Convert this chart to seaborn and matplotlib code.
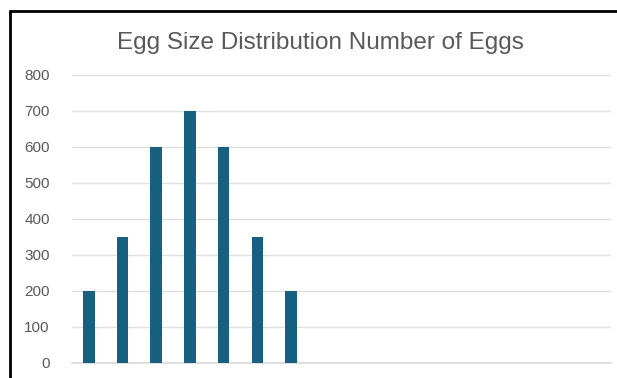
import matplotlib
matplotlib.use("Agg")
import matplotlib.pyplot as plt
import seaborn as sns
import pandas as pd
from matplotlib.lines import Line2D

# egg size classes (labels are cut off in the original image)
sizes = ["1", "2", "3", "4", "5", "6", "7"]
num_eggs = [200, 350, 600, 700, 600, 350, 200]
y_ticks = [0, 100, 200, 300, 400, 500, 600, 700, 800]

df = pd.DataFrame({"size": sizes, "eggs": num_eggs})

sns.set_style("white")
plt.rcParams["font.family"] = ["Liberation Sans", "DejaVu Sans"]

fig = plt.figure(figsize=(6.17, 3.78), dpi=100)
ax = fig.add_axes([72 / 617, 15 / 378, 539 / 617, 288 / 378])

sns.barplot(data=df, x="size", y="eggs", color="#17607f", width=0.34,
            saturation=1, linewidth=0, ax=ax, zorder=3)

ax.set_xlim(-0.5, 15.5)
ax.set_ylim(0, 800)
ax.set_yticks(y_ticks)
ax.set_yticklabels([str(t) for t in y_ticks], color="#595959", fontsize=11)
ax.tick_params(axis="y", length=0, pad=16)
ax.set_xticks([])
ax.set_xlabel("")
ax.set_ylabel("")
ax.grid(axis="y", color="#e0e0e0", linewidth=1, zorder=0)
for s in ["top", "right", "left"]:
    ax.spines[s].set_visible(False)
ax.spines["bottom"].set_color("#d9d9d9")
ax.spines["bottom"].set_linewidth(1.2)

fig.text(320 / 617, 1 - 43 / 378, "Egg Size Distribution Number of Eggs",
         ha="center", va="center", fontsize=17.5, color="#595959")

# outer frame of the chart
fig.add_artist(Line2D([10 / 617, 10 / 617], [0, 1 - 11 / 378], color="black", linewidth=2))
fig.add_artist(Line2D([10 / 617, 1], [1 - 11 / 378, 1 - 11 / 378], color="black", linewidth=2))

fig.savefig("out.png", dpi=100)
